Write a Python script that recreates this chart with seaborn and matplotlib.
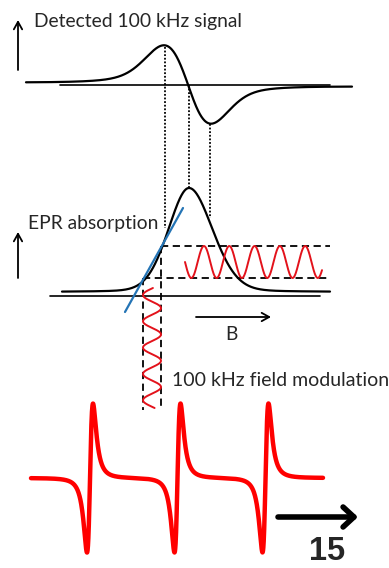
import numpy as np
import matplotlib
matplotlib.use("Agg")
import matplotlib.pyplot as plt
import seaborn as sns

# --- values (pixel space, y grows downwards) ---
# detected (first derivative) signal at the top
top_center = 188
top_peak_dist = [24, 23]      # distance of peak / trough from the zero crossing
top_amp = 39
top_base = [83, 86]           # baseline at left / right end
top_x_range = [26, 352]
top_axis = [60, 330, 85]

# EPR absorption line
abs_center = 189
abs_width = [21, 24]
abs_height = 104
abs_base = 292
abs_x_range = [62, 330]
abs_axis = [50, 320, 296]

# dotted guides linking the two curves
guide_x = [165, 189, 210]
guide_top = [47, 85, 124]
guide_bottom = [228, 188, 218]

# modulation window
mod_levels = [246, 278]
mod_cols = [143, 161]
mod_h_range = [185, 322]
mod_v_range = [288, 408]
mod_period = [25.3, 26.3]

# tangent line
tangent_x = [125, 183]
tangent_y = [312, 208]

# bottom spectrum: three narrow derivative lines
spec_centers = [90, 177.5, 265.5]
spec_width = 5.2
spec_amp = 74.5
spec_base = 478
spec_x_range = [31, 323]


def voigt(x, c, wl, wr, eta=0.35):
    w = np.where(x < c, wl, wr)
    u = (x - c) / w
    return eta / (1 + u ** 2) + (1 - eta) * np.exp(-u ** 2 / 2)


def deriv_shape(x, c, sl, sr, eta=0.4):
    s = np.where(x < c, sl, sr)
    u = (c - x) / s
    g = u * np.exp(-(u ** 2 - 1) / 2)
    v = u / np.sqrt(3)
    lor = 2 * v / (1 + v ** 2) ** 2 / 0.6495
    return eta * lor + (1 - eta) * g


sns.set_theme(style="white")
plt.rcParams["font.family"] = ["Lato", "DejaVu Sans"]

fig = plt.figure(figsize=(3.89, 5.68), dpi=100)
ax = fig.add_axes([0, 0, 1, 1])
ax.set_xlim(0, 389)
ax.set_ylim(568, 0)
ax.axis("off")

# top derivative curve
xt = np.linspace(*top_x_range, 800)
d = deriv_shape(xt, top_center, *top_peak_dist)
base_t = np.interp(xt, top_x_range, top_base)
sns.lineplot(x=xt, y=base_t - top_amp * d, ax=ax, color="black", lw=1.6,
             sort=False, estimator=None)
ax.plot(top_axis[:2], [top_axis[2]] * 2, color="black", lw=1.2)

# absorption curve
xa = np.linspace(*abs_x_range, 800)
ya = abs_base - abs_height * voigt(xa, abs_center, *abs_width, eta=0.15)
sns.lineplot(x=xa, y=ya, ax=ax, color="black", lw=1.6, sort=False, estimator=None)
ax.plot(abs_axis[:2], [abs_axis[2]] * 2, color="black", lw=1.2)

# dotted guides
for gx, g0, g1 in zip(guide_x, guide_top, guide_bottom):
    ax.plot([gx, gx], [g0, g1], color="black", lw=1.3, ls=(0, (1, 1)))

# dashed modulation window
ax.plot([mod_cols[1], 330], [mod_levels[0]] * 2, color="black", lw=1.3, ls=(0, (4, 2.5)))
ax.plot([mod_cols[0], 330], [mod_levels[1]] * 2, color="black", lw=1.3, ls=(0, (4, 2.5)))
ax.plot([mod_cols[0]] * 2, [mod_levels[1], 410], color="black", lw=1.3, ls=(0, (4, 2.5)))
ax.plot([mod_cols[1]] * 2, [mod_levels[0], 410], color="black", lw=1.3, ls=(0, (4, 2.5)))

# horizontal (detected) modulation wave
mid = np.mean(mod_levels)
amp = (mod_levels[1] - mod_levels[0]) / 2
xh = np.linspace(*mod_h_range, 500)
sns.lineplot(x=xh, y=mid + amp * np.sin(2 * np.pi * (xh - mod_h_range[0]) / mod_period[0]),
             ax=ax, color="#e3121b", lw=1.4, sort=False, estimator=None)

# vertical (field) modulation wave
yv = np.linspace(*mod_v_range, 500)
cmid = np.mean(mod_cols)
camp = (mod_cols[1] - mod_cols[0]) / 2
xv = cmid - camp * np.cos(2 * np.pi * (yv - 295) / mod_period[1])
sns.lineplot(x=xv, y=yv, ax=ax, color="#e3121b", lw=1.4, sort=False, estimator=None)

# tangent
ax.plot(tangent_x, tangent_y, color="#2474b5", lw=1.6)

# bottom spectrum
xs = np.linspace(*spec_x_range, 3000)
ys = np.zeros_like(xs)
for c in spec_centers:
    u = (xs - c) / spec_width
    ys += -2 * u / (1 + u ** 2) ** 2
ys = ys / 0.6495
sns.lineplot(x=xs, y=spec_base + spec_amp * ys, ax=ax, color="#ff0000", lw=3.2,
             sort=False, estimator=None)

# arrows
arr = dict(arrowstyle="->,head_length=0.45,head_width=0.25", color="black", lw=1.3,
           shrinkA=0, shrinkB=0)
ax.annotate("", xy=(18, 20), xytext=(18, 70), arrowprops=arr)
ax.annotate("", xy=(18, 232), xytext=(18, 278), arrowprops=arr)
ax.annotate("", xy=(271, 317), xytext=(196, 317), arrowprops=arr)
ax.annotate("", xy=(358, 517), xytext=(278, 517),
            arrowprops=dict(arrowstyle="->,head_length=0.65,head_width=0.6",
                            color="black", lw=4.0, shrinkA=0, shrinkB=0))

# labels
ax.text(34, 22, "Detected 100 kHz signal", fontsize=13.9, va="center", ha="left")
ax.text(28, 223, "EPR absorption", fontsize=13.9, va="center", ha="left")
ax.text(231, 335, "B", fontsize=13.9, va="center", ha="center")
ax.text(172, 380, "100 kHz field modulation", fontsize=14, va="center", ha="left")
ax.text(327, 567, "15", fontsize=23.5, fontweight="bold", ha="center", va="bottom",
        family=["Liberation Sans", "DejaVu Sans"])

fig.savefig("out.png", dpi=100)
